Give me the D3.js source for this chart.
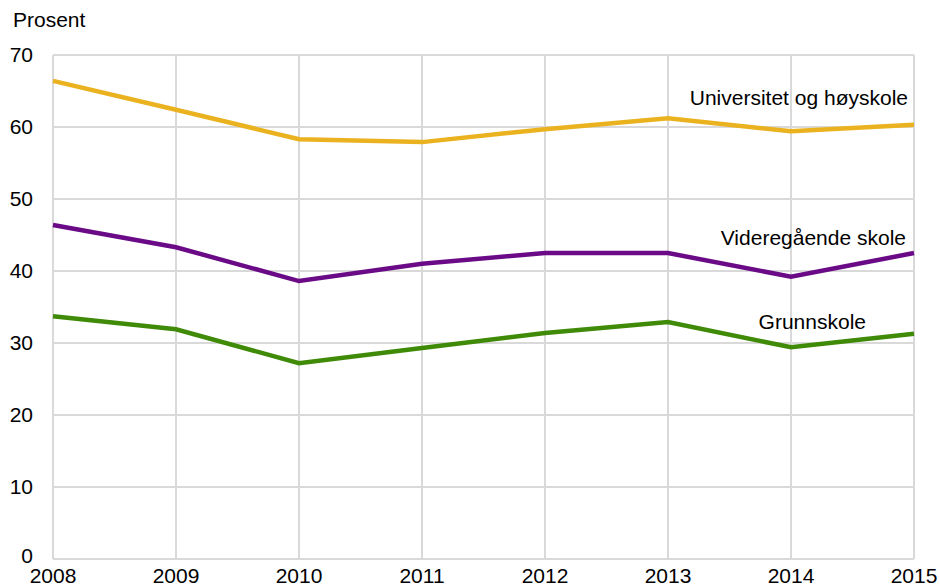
<!DOCTYPE html>
<html>
<head>
<meta charset="utf-8">
<script src="https://cdn.jsdelivr.net/npm/d3@7"></script>
<style>
  body { margin: 0; background: #fff; }
  text { font-family: "Liberation Sans", Arial, sans-serif; fill: #000; }
</style>
</head>
<body>
<div id="chart"></div>
<script>
// DATA
const years = [2008, 2009, 2010, 2011, 2012, 2013, 2014, 2015];
const universitet = [66.4, 62.4, 58.3, 57.9, 59.7, 61.2, 59.4, 60.3];
const videregaende = [46.4, 43.3, 38.6, 41.0, 42.5, 42.5, 39.2, 42.5];
const grunnskole = [33.7, 31.9, 27.2, 29.3, 31.4, 32.9, 29.4, 31.3];
const yTicks = [0, 10, 20, 30, 40, 50, 60, 70];

const series = [
  { name: 'Universitet og høyskole', values: universitet, color: '#ebb220', lx: 908, ly: 105 },
  { name: 'Videregående skole', values: videregaende, color: '#6b0a87', lx: 906, ly: 245 },
  { name: 'Grunnskole', values: grunnskole, color: '#3f8a07', lx: 866, ly: 329 },
];

const width = 940;
const height = 585;
const margin = { top: 55, right: 26, bottom: 26, left: 53 };
const fontSize = '21px';

const svg = d3.select('#chart').append('svg')
  .attr('width', width)
  .attr('height', height);

const x = d3.scaleLinear()
  .domain([2008, 2015])
  .range([margin.left, width - margin.right]);

const y = d3.scaleLinear()
  .domain([0, 70])
  .range([height - margin.bottom, margin.top]);

// GRIDLINES
svg.append('g')
  .selectAll('line')
  .data(yTicks)
  .join('line')
    .attr('x1', margin.left)
    .attr('x2', width - margin.right)
    .attr('y1', d => y(d))
    .attr('y2', d => y(d))
    .attr('stroke', '#d9d9d9')
    .attr('stroke-width', 2);

svg.append('g')
  .selectAll('line')
  .data(years)
  .join('line')
    .attr('x1', d => x(d))
    .attr('x2', d => x(d))
    .attr('y1', y(0))
    .attr('y2', y(70))
    .attr('stroke', '#d9d9d9')
    .attr('stroke-width', 2);

// AXIS LABELS
svg.append('g')
  .selectAll('text')
  .data(yTicks)
  .join('text')
    .attr('x', 33)
    .attr('y', d => Math.min(y(d), 556))
    .attr('dy', '0.35em')
    .attr('text-anchor', 'end')
    .style('font-size', fontSize)
    .text(d => d);

svg.append('g')
  .selectAll('text')
  .data(years)
  .join('text')
    .attr('x', d => x(d))
    .attr('y', 583)
    .attr('text-anchor', 'middle')
    .style('font-size', fontSize)
    .text(d => d);

svg.append('text')
  .attr('x', 13)
  .attr('y', 27)
  .style('font-size', fontSize)
  .text('Prosent');

// LINES
const line = d3.line()
  .x((d, i) => x(years[i]))
  .y(d => y(d));

svg.append('g')
  .selectAll('path')
  .data(series)
  .join('path')
    .attr('d', d => line(d.values))
    .attr('fill', 'none')
    .attr('stroke', d => d.color)
    .attr('stroke-width', 4.5)
    .attr('stroke-linejoin', 'miter');

svg.append('g')
  .selectAll('text')
  .data(series)
  .join('text')
    .attr('x', d => d.lx)
    .attr('y', d => d.ly)
    .attr('text-anchor', 'end')
    .style('font-size', fontSize)
    .text(d => d.name);
</script>
</body>
</html>
